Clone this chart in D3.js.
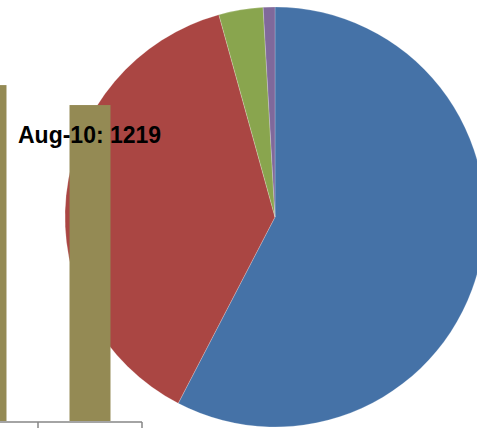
<!DOCTYPE html>
<html>
<head>
<meta charset="utf-8">
<script src="https://cdn.jsdelivr.net/npm/d3@7"></script>
<style>
  html, body { margin: 0; padding: 0; background: #fff; overflow: hidden; }
</style>
</head>
<body>
<div id="grafica"></div>
<script>
// pie data
var slices = ["Blue", "Red", "Green", "Purple"];
var sliceValues = [1217, 804, 72, 19];
var sliceColors = ["#4572a7", "#aa4643", "#89a54e", "#80699b"];

// bar data (only part of the bar chart is visible)
var months = ["Jul-10", "Aug-10"];
var monthValues = [1296, 1219];
var tipLabel = "Aug-10: 1219";

var width = 477, height = 428;

var svg = d3.select("#grafica")
  .append("svg")
    .attr("width", width)
    .attr("height", height);

// pie
var cx = 275, cy = 217, radius = 210;

var pie = d3.pie().sort(null).value(function(d) { return d; });
var arc = d3.arc().innerRadius(0).outerRadius(radius);

svg.append("g")
    .attr("transform", "translate(" + cx + "," + cy + ")")
  .selectAll("path")
  .data(pie(sliceValues))
  .enter().append("path")
    .attr("d", arc)
    .attr("fill", function(d, i) { return sliceColors[i]; })
    .attr("stroke", "#ffffff")
    .attr("stroke-opacity", 0.35)
    .attr("stroke-width", 0.6);

// bars
var x = d3.scaleBand()
  .domain(months)
  .range([-66, 142])
  .paddingInner(0.606)
  .paddingOuter(0.303);

var y = d3.scaleLinear()
  .domain([0, 1600])
  .range([421, 6.3]);

svg.selectAll(".bar")
  .data(monthValues)
  .enter().append("rect")
    .attr("class", "bar")
    .attr("x", function(d, i) { return x(months[i]); })
    .attr("y", function(d) { return y(d); })
    .attr("width", x.bandwidth())
    .attr("height", function(d) { return y(0) - y(d); })
    .attr("fill", "#948a54");

// category axis, ticks between the categories
var edges = months.map(function(m) { return x(m) - x.step() * x.paddingOuter(); });
edges.push(x.range()[1]);

var axis = svg.append("g").attr("transform", "translate(0," + 422 + ")");
axis.append("line")
    .attr("x1", x.range()[0]).attr("x2", x.range()[1])
    .attr("y1", 0).attr("y2", 0)
    .attr("stroke", "#868686")
    .attr("stroke-width", 1.5);
axis.selectAll(".tick")
  .data(edges)
  .enter().append("line")
    .attr("x1", function(d) { return d; }).attr("x2", function(d) { return d; })
    .attr("y1", 0).attr("y2", 7)
    .attr("stroke", "#868686")
    .attr("stroke-width", 1.5);

// tooltip label
svg.append("text")
    .attr("x", 18)
    .attr("y", 142.5)
    .style("font-family", "'Liberation Sans', Arial, sans-serif")
    .style("font-weight", "bold")
    .style("font-size", "23px")
    .attr("fill", "#000")
    .text(tipLabel);
</script>
</body>
</html>
